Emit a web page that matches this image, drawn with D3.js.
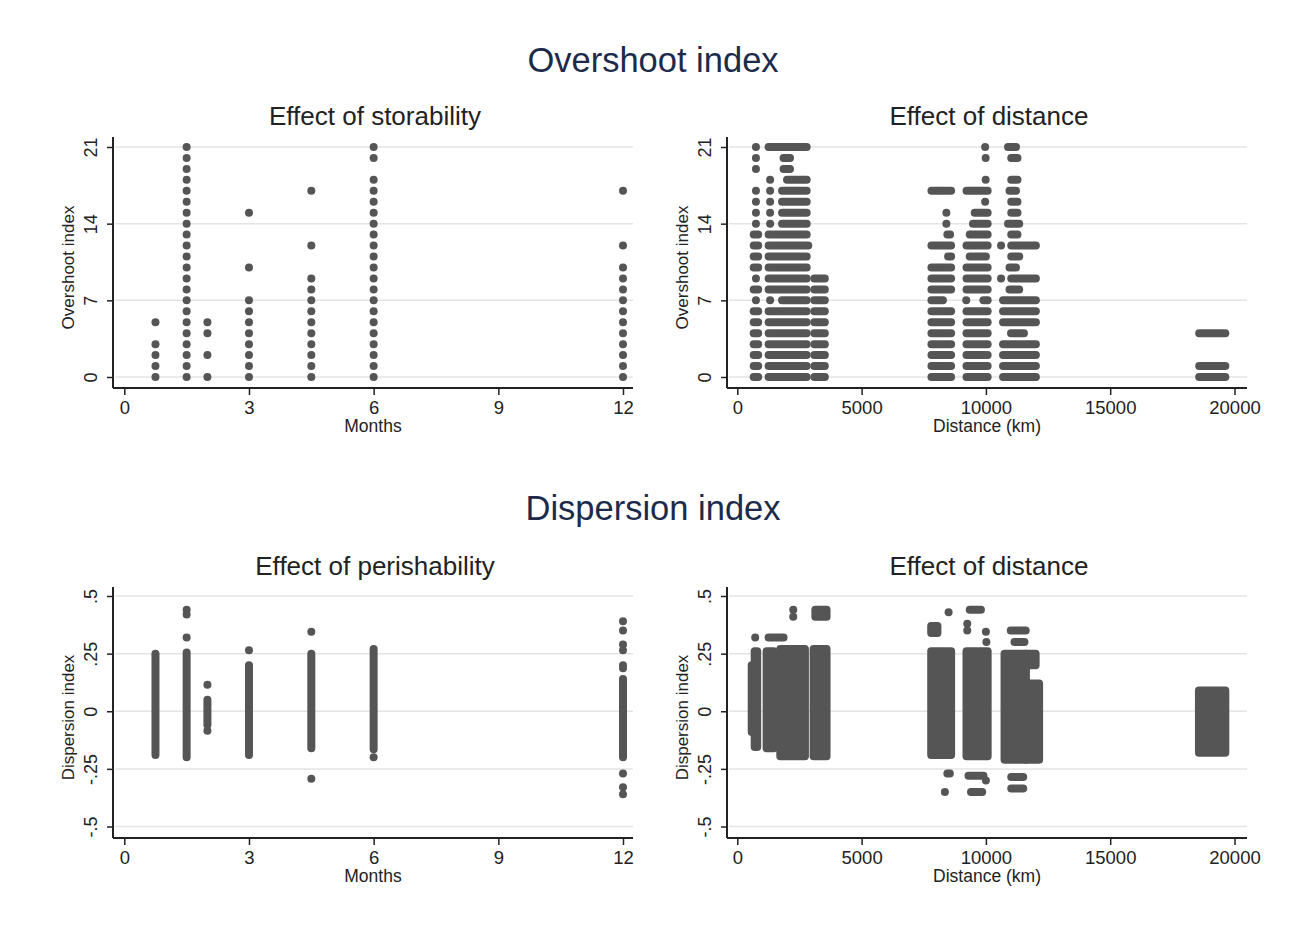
<!DOCTYPE html>
<html>
<head>
<meta charset="utf-8">
<script src="https://cdn.jsdelivr.net/npm/d3@7"></script>
<style>
  body { margin: 0; background: #fff; }
  text { font-family: "Liberation Sans", Arial, sans-serif; }
</style>
</head>
<body>
<svg id="chart" width="1303" height="943"></svg>
<script>
// ---- data ----
const monthTicks = [0, 3, 6, 9, 12];
const distanceTicks = [0, 5000, 10000, 15000, 20000];
const overshootTicks = [0, 7, 14, 21];
const dispersionTicks = [-0.5, -0.25, 0, 0.25, 0.5];
const dispersionTickLabels = ["-.5", "-.25", "0", ".25", ".5"];

// storability (months) vs overshoot index
const storabilityMonths = [0.75, 1.5, 2, 3, 4.5, 6, 12];
const storabilityOvershoot = [
  [0, 1, 2, 3, 5],
  [0, 1, 2, 3, 4, 5, 6, 7, 8, 9, 10, 11, 12, 13, 14, 15, 16, 17, 18, 19, 20, 21],
  [0, 2, 4, 5],
  [0, 1, 2, 3, 4, 5, 6, 7, 10, 15],
  [0, 1, 2, 3, 4, 5, 6, 7, 8, 9, 12, 17],
  [0, 1, 2, 3, 4, 5, 6, 7, 8, 9, 10, 11, 12, 13, 14, 15, 16, 17, 18, 20, 21],
  [0, 1, 2, 3, 4, 5, 6, 7, 8, 9, 10, 12, 17],
];

// distance (km) vs overshoot index: per index value, runs of overlapping markers [from, to]
const overshootDistanceRows = [
  [21, [[750, 750], [1260, 2790], [9970, 9970], [10890, 11210]]],
  [20, [[750, 750], [1860, 2120], [9990, 9990], [11020, 11270]]],
  [19, [[750, 750], [1860, 2120]]],
  [18, [[1320, 1320], [2000, 2790], [9990, 9990], [11020, 11270]]],
  [17, [[750, 750], [1320, 1320], [1800, 2790], [7810, 8600], [9220, 10070], [10950, 11210]]],
  [16, [[750, 750], [1320, 1320], [1800, 2790], [9970, 9970], [11020, 11270]]],
  [15, [[750, 750], [1320, 1320], [1800, 2790], [8410, 8410], [9550, 10070], [11020, 11270]]],
  [14, [[750, 750], [1320, 1320], [1800, 2790], [8410, 8410], [9480, 10070], [10890, 11340]]],
  [13, [[660, 840], [1260, 2790], [8450, 8560], [9350, 10070], [11020, 11270]]],
  [12, [[660, 840], [1260, 2855], [7810, 8600], [9220, 10070], [10610, 10610], [11020, 12010]]],
  [11, [[660, 840], [1260, 2790], [8480, 8600], [9350, 10000], [11020, 11340]]],
  [10, [[660, 840], [1260, 2790], [7810, 8600], [9220, 10070], [10950, 11210]]],
  [9, [[750, 750], [1260, 2790], [3100, 3520], [7810, 8600], [9220, 10070], [10610, 10610], [11020, 12010]]],
  [8, [[660, 840], [1260, 2790], [3100, 3520], [7810, 8600], [9220, 10070], [10950, 11340]]],
  [7, [[750, 750], [1320, 1320], [1800, 2790], [3100, 3520], [7810, 8270], [9210, 9210], [9900, 10070], [10690, 12010]]],
  [6, [[660, 840], [1260, 2790], [3100, 3520], [7810, 8600], [9220, 10070], [10690, 12010]]],
  [5, [[660, 840], [1260, 2790], [3100, 3520], [7810, 8600], [9220, 10070], [10690, 12010]]],
  [4, [[660, 840], [1260, 2790], [3100, 3520], [7810, 8600], [9220, 10070], [11010, 11530], [18580, 19630]]],
  [3, [[660, 840], [1260, 2790], [3100, 3520], [7810, 8600], [9220, 10070], [10690, 12010]]],
  [2, [[660, 840], [1260, 2790], [3100, 3520], [7810, 8600], [9220, 10070], [10690, 12010]]],
  [1, [[660, 840], [1260, 2790], [3100, 3520], [7810, 8600], [9220, 10070], [10690, 12010], [18580, 19630]]],
  [0, [[660, 840], [1260, 2790], [3100, 3520], [7810, 8600], [9220, 10070], [10690, 12010], [18580, 19630]]],
];

// perishability (months) vs dispersion index: dense stripes [month, low, high] and single markers
const perishStripes = [
  [0.75, -0.19, 0.24],
  [1.5, -0.2, 0.255],
  [2, -0.06, 0.05],
  [3, -0.19, 0.2],
  [4.5, -0.16, 0.25],
  [6, -0.165, 0.27],
  [12, -0.2, 0.14],
];
const perishPoints = [
  [0.75, 0.25], [1.5, 0.44], [1.5, 0.42], [1.5, 0.32],
  [2, 0.115], [2, -0.085], [3, 0.265],
  [4.5, 0.345], [4.5, -0.293], [6, -0.2],
  [12, 0.39], [12, 0.35], [12, 0.29], [12, 0.265], [12, 0.2], [12, 0.187],
  [12, -0.27], [12, -0.33], [12, -0.36],
];

// distance (km) vs dispersion index: dense blocks [fromKm, toKm, low, high] and single markers
const dispersionDistanceBlocks = [
  [580, 620, -0.09, 0.2],
  [700, 800, -0.155, 0.26],
  [1180, 1460, -0.16, 0.26],
  [1260, 1860, 0.32, 0.32],
  [1730, 2720, -0.195, 0.27],
  [3070, 3590, -0.195, 0.27],
  [3140, 3590, 0.41, 0.44],
  [7800, 8600, -0.19, 0.26],
  [7800, 8050, 0.34, 0.37],
  [8450, 8550, -0.27, -0.27],
  [9220, 10070, -0.195, 0.26],
  [9350, 9800, 0.44, 0.44],
  [9300, 9900, -0.28, -0.28],
  [9400, 9850, -0.35, -0.35],
  [10750, 11610, -0.21, 0.25],
  [11610, 12140, -0.21, 0.12],
  [11000, 11600, 0.35, 0.35],
  [11150, 11550, 0.3, 0.3],
  [11600, 12000, 0.2, 0.25],
  [11020, 11500, -0.285, -0.285],
  [11020, 11500, -0.335, -0.335],
  [18570, 19630, -0.18, 0.09],
];
const dispersionDistancePoints = [
  [720, 0.32], [2250, 0.44], [2250, 0.41], [8500, 0.43], [8350, -0.35],
  [9250, 0.38], [9250, 0.35], [10000, 0.345], [10020, 0.3], [10000, -0.3],
];

// ---- drawing ----
const svg = d3.select("#chart");
const R = 4;
const DOT = "#555";
const GRID = "#e4e4e4";
const AXIS = "#222";
const FONT = '"Liberation Sans", Arial, sans-serif';

function makePanel(xDomain, xRange, yDomain, yRange, left, right, top, bottom) {
  return {
    x: d3.scaleLinear().domain(xDomain).range(xRange),
    y: d3.scaleLinear().domain(yDomain).range(yRange),
    left, right, top, bottom,
    g: svg.append("g"),
  };
}

function drawFrame(p, xTicks, yTicks, yLabels, xTitle, yTitle, subtitle) {
  // gridlines
  p.g.selectAll("line.grid")
    .data(yTicks)
    .enter()
    .append("line")
    .attr("class", "grid")
    .attr("x1", p.left + 2)
    .attr("x2", p.right)
    .attr("y1", (d) => p.y(d))
    .attr("y2", (d) => p.y(d))
    .attr("stroke", GRID)
    .attr("stroke-width", 1.5);

  const xAxis = p.g.append("g")
    .attr("transform", `translate(0,${p.bottom})`)
    .call(d3.axisBottom(p.x).tickValues(xTicks).tickSize(7).tickFormat(d3.format("d")));
  xAxis.select(".domain").remove();
  xAxis.selectAll("line").attr("stroke", AXIS).attr("stroke-width", 1.5);
  xAxis.selectAll("text")
    .attr("y", 13)
    .attr("dy", "0.72em")
    .attr("fill", "#222")
    .style("font-size", "18.5px")
    .style("font-family", FONT);

  const yAxis = p.g.append("g")
    .attr("transform", `translate(${p.left},0)`)
    .call(d3.axisLeft(p.y).tickValues(yTicks).tickSize(6).tickFormat((d, i) => yLabels[i]));
  yAxis.select(".domain").remove();
  yAxis.selectAll("line").attr("stroke", AXIS).attr("stroke-width", 1.5);
  yAxis.selectAll("text")
    .attr("transform", "rotate(-90)")
    .attr("x", 0)
    .attr("y", -16)
    .attr("dy", 0)
    .attr("text-anchor", "middle")
    .attr("fill", "#222")
    .style("font-size", "18px")
    .style("font-family", FONT);

  // axis lines extend past the data range like Stata's
  p.g.append("line")
    .attr("x1", p.left).attr("x2", p.right)
    .attr("y1", p.bottom).attr("y2", p.bottom)
    .attr("stroke", AXIS).attr("stroke-width", 2);
  p.g.append("line")
    .attr("x1", p.left).attr("x2", p.left)
    .attr("y1", p.top).attr("y2", p.bottom)
    .attr("stroke", AXIS).attr("stroke-width", 2);

  p.g.append("text")
    .attr("x", (p.left + p.right) / 2)
    .attr("y", p.bottom + 44)
    .attr("text-anchor", "middle")
    .attr("fill", "#222")
    .style("font-size", "17.5px")
    .text(xTitle);

  p.g.append("text")
    .attr("transform", `translate(${p.left - 39},${(p.top + p.bottom) / 2 + 5}) rotate(-90)`)
    .attr("text-anchor", "middle")
    .attr("fill", "#222")
    .style("font-size", "17px")
    .text(yTitle);

  p.g.append("text")
    .attr("x", (p.left + p.right) / 2 + 2)
    .attr("y", p.top - 12)
    .attr("text-anchor", "middle")
    .attr("fill", "#222")
    .style("font-size", "26px")
    .text(subtitle);
}

function drawDots(p, pts) {
  p.g.selectAll(null)
    .data(pts)
    .enter()
    .append("circle")
    .attr("cx", (d) => p.x(d[0]))
    .attr("cy", (d) => p.y(d[1]))
    .attr("r", R)
    .attr("fill", DOT);
}

// a block of overlapping markers: [x0, x1, y0, y1]
function drawBlocks(p, blocks) {
  p.g.selectAll(null)
    .data(blocks)
    .enter()
    .append("rect")
    .attr("x", (d) => p.x(d[0]) - R)
    .attr("width", (d) => p.x(d[1]) - p.x(d[0]) + 2 * R)
    .attr("y", (d) => p.y(d[3]) - R)
    .attr("height", (d) => p.y(d[2]) - p.y(d[3]) + 2 * R)
    .attr("rx", R)
    .attr("fill", DOT);
}

// titles
svg.append("text")
  .attr("x", 653).attr("y", 72)
  .attr("text-anchor", "middle")
  .attr("fill", "#1c2b4b")
  .style("font-size", "34.5px")
  .text("Overshoot index");
svg.append("text")
  .attr("x", 653).attr("y", 520)
  .attr("text-anchor", "middle")
  .attr("fill", "#1c2b4b")
  .style("font-size", "34.5px")
  .text("Dispersion index");

// panel 1: storability
const p1 = makePanel([0, 12], [124.3, 623], [0, 21], [377, 147], 113, 633, 137, 388);
drawFrame(p1, monthTicks, overshootTicks, overshootTicks.map(String), "Months", "Overshoot index", "Effect of storability");
const p1Points = [];
storabilityMonths.forEach((m, i) => {
  storabilityOvershoot[i].forEach((v) => p1Points.push([m, v]));
});
drawDots(p1, p1Points);

// panel 2: distance vs overshoot
const p2 = makePanel([0, 20000], [737.3, 1234.5], [0, 21], [377, 147], 727, 1247, 137, 388);
drawFrame(p2, distanceTicks, overshootTicks, overshootTicks.map(String), "Distance (km)", "Overshoot index", "Effect of distance");
const p2Blocks = [];
overshootDistanceRows.forEach(([v, runs]) => {
  runs.forEach(([a, b]) => p2Blocks.push([a, b, v, v]));
});
drawBlocks(p2, p2Blocks);

// panel 3: perishability
const p3 = makePanel([0, 12], [124.3, 623], [-0.5, 0.5], [826.5, 596], 113, 633, 587, 838);
drawFrame(p3, monthTicks, dispersionTicks, dispersionTickLabels, "Months", "Dispersion index", "Effect of perishability");
drawBlocks(p3, perishStripes.map(([m, lo, hi]) => [m, m, lo, hi]));
drawDots(p3, perishPoints);

// panel 4: distance vs dispersion
const p4 = makePanel([0, 20000], [737.3, 1234.5], [-0.5, 0.5], [826.5, 596], 727, 1247, 587, 838);
drawFrame(p4, distanceTicks, dispersionTicks, dispersionTickLabels, "Distance (km)", "Dispersion index", "Effect of distance");
drawBlocks(p4, dispersionDistanceBlocks);
drawDots(p4, dispersionDistancePoints);
</script>
</body>
</html>
